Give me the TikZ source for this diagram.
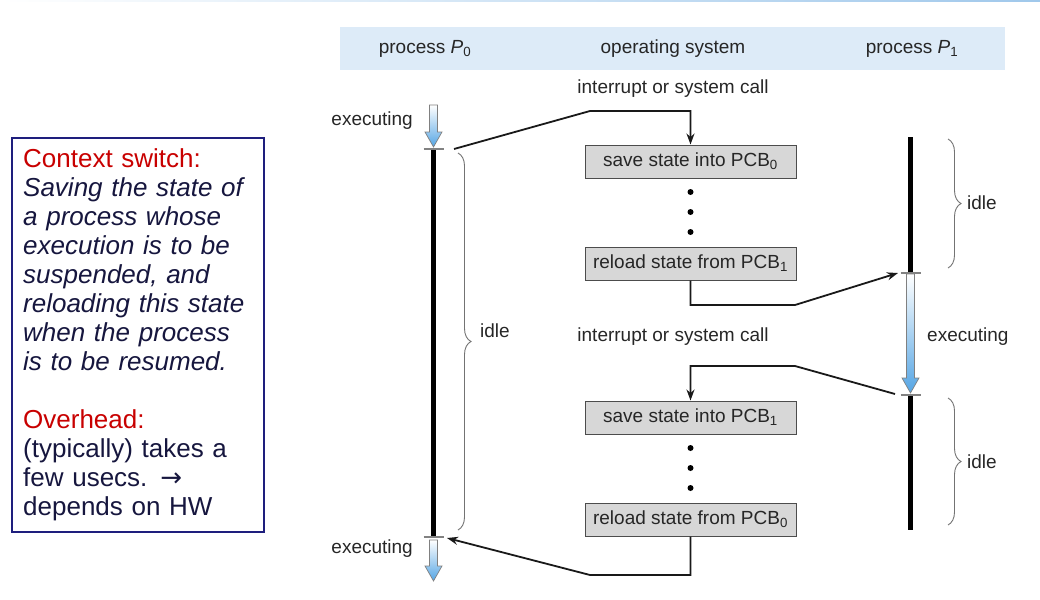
\documentclass[tikz,border=0pt]{standalone}
\usepackage{fontspec}
\setmainfont{Liberation Sans}
\newfontfamily\dejavu{DejaVu Sans}
\usetikzlibrary{decorations.pathreplacing,arrows.meta}
\definecolor{hdr}{RGB}{221,235,248}
\definecolor{boxgray}{RGB}{215,215,215}
\definecolor{navyb}{RGB}{30,30,125}
\definecolor{ctxred}{RGB}{200,0,0}
\definecolor{txtdark}{RGB}{22,22,62}
\definecolor{arrowblue}{RGB}{85,165,228}
\definecolor{tickgray}{RGB}{130,130,130}
\definecolor{topline}{RGB}{160,200,235}
\begin{document}
\begin{tikzpicture}[x=1pt,y=-1pt,
  lbl/.style={font=\fontsize{19}{22}\selectfont, text=black!85, inner sep=0pt},
  osbox/.style={draw=black!70, fill=boxgray, line width=1pt, minimum width=211pt, minimum height=33pt, inner sep=0pt, font=\fontsize{19}{22}\selectfont, text=black!85},
  conn/.style={line width=1.8pt, draw=black!90},
  tipd/.style={-{Stealth[length=11pt,width=8pt]}},
  tline/.style={line width=5pt, draw=black},
  tick/.style={line width=1.4pt, draw=tickgray},
  brc/.style={decorate, decoration={brace, amplitude=13pt}, draw=black!55, line width=0.9pt},
  dot/.style={circle, fill=black, inner sep=0pt, minimum size=6pt},
  blarr/.style={top color=white, bottom color=arrowblue, draw=black!50, line width=0.7pt},
  ctxtext/.style={anchor=north west, inner sep=0pt, text width=240pt, align=left, font=\fontsize{26}{29}\selectfont, text=txtdark},
]
\useasboundingbox (0,0) rectangle (1040,599);
% top gradient rule
\shade[left color=white, right color=topline] (0,0) rectangle (1040,2);
% header band
\fill[hdr] (340,27) rectangle (1005,70);
\node[lbl] (hdr0) at (425,49) {process \textit{P}\textsubscript{0}};
\node[lbl] (hdros) at (673,49) {operating system};
\node[lbl] (hdr1) at (912,49) {process \textit{P}\textsubscript{1}};

% left description box
\draw[navyb, line width=2.5pt] (12,138) rectangle (264,532);
\node[ctxtext] (ctx) at (23,148.5) {\textcolor{ctxred}{Context switch:}\\
\textit{Saving the state of}\\
\textit{a process whose}\\
\textit{execution is to be}\\
\textit{suspended, and}\\
\textit{reloading this state}\\
\textit{when the process}\\
\textit{is to be resumed.}\\[29pt]
\textcolor{ctxred}{Overhead:}\\
(typically) takes a\\
few usecs. {\dejavu →}\\
depends on HW};

% OS boxes
\node[osbox] (s0) at (690.5,161.5) {save state into PCB\textsubscript{0}};
\node[osbox] (r1) at (690.5,263.5) {reload state from PCB\textsubscript{1}};
\node[osbox] (s1) at (690.5,417.5) {save state into PCB\textsubscript{1}};
\node[osbox] (r0) at (690.5,519.5) {reload state from PCB\textsubscript{0}};
\node[dot] (d1) at (690.5,192) {};
\node[dot] (d2) at (690.5,212) {};
\node[dot] (d3) at (690.5,232) {};
\node[dot] (d4) at (690.5,448) {};
\node[dot] (d5) at (690.5,468) {};
\node[dot] (d6) at (690.5,488) {};
\node[lbl] (irq1) at (673,89) {interrupt or system call};
\node[lbl] (irq2) at (673,337) {interrupt or system call};

% P0 timeline
\coordinate (p0t) at (433.5,149);
\coordinate (p0b) at (433.5,537);
\draw[tline] (p0t) -- (p0b);
\shadedraw[blarr] (429.5,105) -- (437.5,105) -- (437.5,132) -- (442,132) -- (433.5,147) -- (425,132) -- (429.5,132) -- cycle;
\shadedraw[blarr] (429.5,540) -- (437.5,540) -- (437.5,566) -- (442,566) -- (433.5,581) -- (425,566) -- (429.5,566) -- cycle;
\draw[tick] (423.5,149) -- (443.5,149);
\draw[tick] (423.5,537) -- (443.5,537);
\node[lbl, anchor=east] (ex1) at (413,121) {executing};
\node[lbl, anchor=east] (ex2) at (413,549) {executing};
\draw[brc] (458,153) -- (458,530);
\node[lbl, anchor=west] (idle0) at (480,331) {idle};

% P1 timeline
\coordinate (p1a) at (910.5,137);
\coordinate (p1b) at (910.5,273);
\coordinate (p1c) at (910.5,395);
\coordinate (p1d) at (910.5,530);
\draw[tline] (p1a) -- (p1b);
\draw[tline] (p1c) -- (p1d);
\shadedraw[blarr] (906.5,274) -- (914.5,274) -- (914.5,378) -- (919,378) -- (910.5,393) -- (902,378) -- (906.5,378) -- cycle;
\draw[tick] (900.5,273) -- (920.5,273);
\draw[tick] (900.5,395) -- (920.5,395);
\node[lbl, anchor=west] (ex3) at (927,337) {executing};
\draw[brc] (948,139) -- (948,268);
\draw[brc] (948,398) -- (948,525);
\node[lbl, anchor=west] (idle1) at (967,203) {idle};
\node[lbl, anchor=west] (idle2) at (967,462) {idle};

% connectors
\coordinate (c1s) at (454,149);
\coordinate (c2e) at (898,273);
\coordinate (c3s) at (895,394);
\coordinate (c4e) at (447,538);
\draw[conn,tipd] (c1s) -- (590,111) -- (690.5,111) -- (s0.north);
\draw[conn,tipd] (r1.south) -- (690.5,305) -- (795,305) -- (c2e);
\draw[conn,tipd] (c3s) -- (795,366) -- (690.5,366) -- (s1.north);
\draw[conn,tipd] (r0.south) -- (690.5,575) -- (590,575) -- (c4e);
\end{tikzpicture}
\end{document}
